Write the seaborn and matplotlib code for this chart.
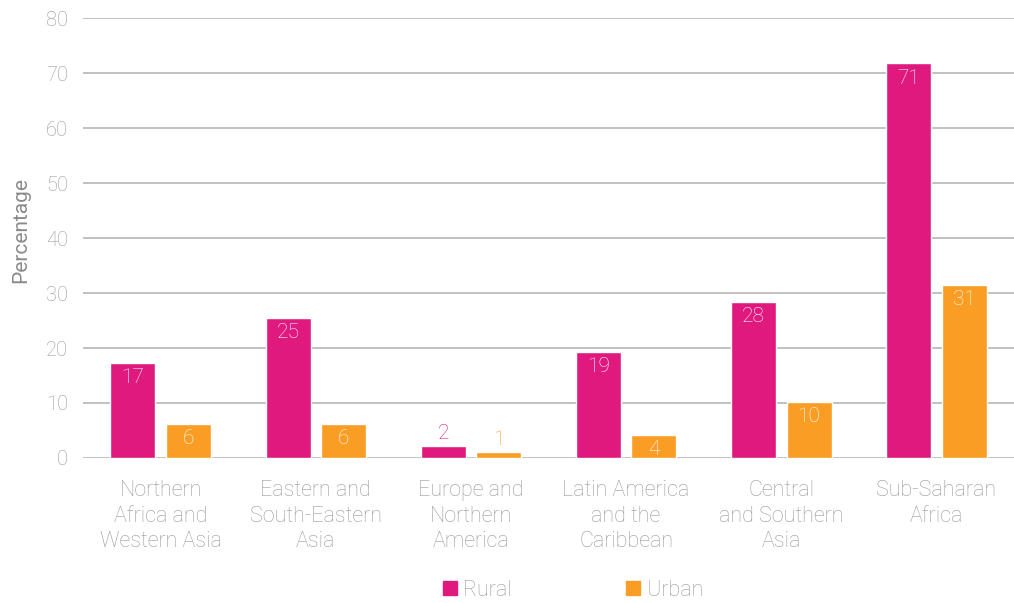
import pandas as pd
import matplotlib
matplotlib.use("Agg")
import matplotlib.pyplot as plt
import matplotlib.patches as mpatches
import seaborn as sns

# 数据
regions = [
    "Northern\nAfrica and\nWestern Asia",
    "Eastern and\nSouth-Eastern\nAsia",
    "Europe and\nNorthern\nAmerica",
    "Latin America\nand the\nCaribbean",
    "Central\nand Southern\nAsia",
    "Sub-Saharan\nAfrica",
]
rural = [17.3, 25.5, 2.2, 19.3, 28.4, 71.8]
urban = [6.2, 6.2, 1.1, 4.2, 10.2, 31.5]
rural_labels = ["17", "25", "2", "19", "28", "71"]
urban_labels = ["6", "6", "1", "4", "10", "31"]
y_ticks = [0, 10, 20, 30, 40, 50, 60, 70, 80]

colors = {"Rural": "#E0197F", "Urban": "#F99D25"}
grey = "#999999"

df = pd.DataFrame({
    "region": regions * 2,
    "area": ["Rural"] * len(regions) + ["Urban"] * len(regions),
    "value": rural + urban,
})

sns.set_style("white")
plt.rcParams["font.family"] = ["Roboto", "DejaVu Sans"]
plt.rcParams["font.weight"] = "light"

fig, ax = plt.subplots(figsize=(10.14, 6.03), dpi=100)
fig.subplots_adjust(left=0.0819, right=1.0, top=0.970, bottom=0.2405)

sns.barplot(data=df, x="region", y="value", hue="area", palette=colors,
            width=0.716, gap=0.19, saturation=1, legend=False, ax=ax)

ax.set_xlim(-0.5, len(regions) - 0.5)
ax.set_ylim(0, 80)
ax.set_yticks(y_ticks)
ax.grid(axis="y", color="#b0b0b0", linewidth=1.1)
ax.set_axisbelow(True)
for s in ax.spines.values():
    s.set_visible(False)
ax.tick_params(axis="both", length=0, colors=grey)
ax.tick_params(axis="y", pad=11, labelsize=14.5)
ax.tick_params(axis="x", pad=16, labelsize=15.5)
for t in ax.get_xticklabels():
    t.set_linespacing(1.27)

ax.set_xlabel("")
ax.set_ylabel("Percentage", fontsize=15, color="#8a8a8a")
ax.yaxis.set_label_coords(-0.057, 0.518)

# 柱内数值标签
for cont, labels, area in zip(ax.containers, [rural_labels, urban_labels], ["Rural", "Urban"]):
    for bar, lab in zip(cont, labels):
        x = bar.get_x() + bar.get_width() / 2
        h = bar.get_height()
        if h < 3:
            ax.annotate(lab, (x, h), xytext=(0, 2), textcoords="offset points",
                        ha="center", va="bottom", fontsize=15, color=colors[area])
        else:
            ax.annotate(lab, (x, h), xytext=(0, -4), textcoords="offset points",
                        ha="center", va="top", fontsize=15, color="white")

handles = [mpatches.Patch(color=colors[k], label=k) for k in ["Rural", "Urban"]]
fig.legend(handles=handles, loc="lower center", bbox_to_anchor=(0.565, -0.028), ncol=2,
           frameon=False, fontsize=15.5, labelcolor=grey, handlelength=0.65,
           handleheight=0.65, handletextpad=0.3, columnspacing=5.3)

fig.savefig("out.png", dpi=100)
